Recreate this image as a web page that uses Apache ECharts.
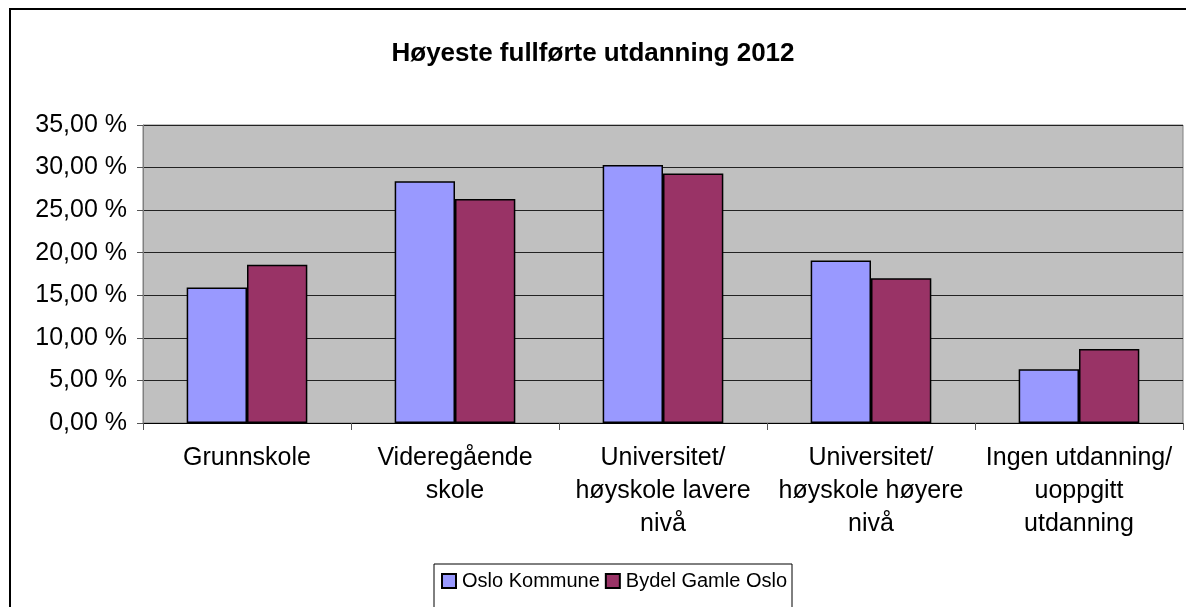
<!DOCTYPE html>
<html>
<head>
<meta charset="utf-8">
<script src="https://cdn.jsdelivr.net/npm/echarts@6/dist/echarts.min.js"></script>
<style>
  html, body { margin: 0; padding: 0; background: #fff; }
  #chart { width: 1186px; height: 607px; }
</style>
</head>
<body>
<div id="chart"></div>
<script>
  // kategorier (med linjeskift slik de står på aksen)
  let categories = [
    'Grunnskole',
    'Videregående\nskole',
    'Universitet/\nhøyskole lavere\nnivå',
    'Universitet/\nhøyskole høyere\nnivå',
    'Ingen utdanning/\nuoppgitt\nutdanning'
  ];
  let osloKommune = [15.9, 28.4, 30.3, 19.1, 6.3];
  let gamleOslo = [18.6, 26.3, 29.3, 17.0, 8.7];
  let seriesNames = ['Oslo Kommune', 'Bydel Gamle Oslo'];

  let chart = echarts.init(document.getElementById('chart'));

  chart.setOption({
    animation: false,
    textStyle: { fontFamily: 'Liberation Sans, Arial, sans-serif' },
    title: {
      text: 'Høyeste fullførte utdanning 2012',
      left: 'center',
      top: 36,
      textStyle: { fontSize: 26, fontWeight: 'bold', color: '#000' }
    },
    graphic: [{
      type: 'rect',
      shape: { x: 10, y: 9, width: 1190, height: 620 },
      style: { fill: null, stroke: '#000', lineWidth: 2 },
      silent: true
    }],
    legend: {
      data: seriesNames,
      left: 434,
      top: 564,
      padding: [7, 5, 20, 7],
      itemWidth: 14,
      itemHeight: 14,
      itemGap: 5,
      borderColor: '#000',
      borderWidth: 1,
      icon: 'rect',
      textStyle: { fontSize: 20, color: '#000', padding: [0, 0, 0, 1] }
    },
    grid: {
      left: 143,
      right: 3,
      top: 125,
      bottom: 184,
      show: true,
      backgroundColor: '#C0C0C0',
      borderColor: '#808080',
      borderWidth: 1
    },
    xAxis: {
      type: 'category',
      data: categories,
      axisLine: { lineStyle: { color: '#000', width: 1 } },
      axisTick: { show: true, length: 7, lineStyle: { color: '#555' } },
      axisLabel: {
        fontSize: 25,
        color: '#000',
        lineHeight: 33,
        margin: 19,
        interval: 0
      }
    },
    yAxis: {
      type: 'value',
      min: 0,
      max: 35,
      interval: 5,
      axisLine: { show: true, lineStyle: { color: '#808080' } },
      axisTick: { show: true, length: 6, lineStyle: { color: '#555' } },
      axisLabel: {
        fontSize: 25,
        color: '#000',
        margin: 16,
        formatter: (v) => v.toFixed(2).replace('.', ',') + ' %'
      },
      splitLine: { lineStyle: { color: '#222', width: 1 } }
    },
    series: [
      {
        name: seriesNames[0],
        type: 'bar',
        data: osloKommune,
        barGap: '0%',
        barCategoryGap: '42%',
        itemStyle: { color: '#9999FF', borderColor: '#000', borderWidth: 1.5 }
      },
      {
        name: seriesNames[1],
        type: 'bar',
        data: gamleOslo,
        itemStyle: { color: '#993366', borderColor: '#000', borderWidth: 1.5 }
      }
    ]
  });
</script>
</body>
</html>
